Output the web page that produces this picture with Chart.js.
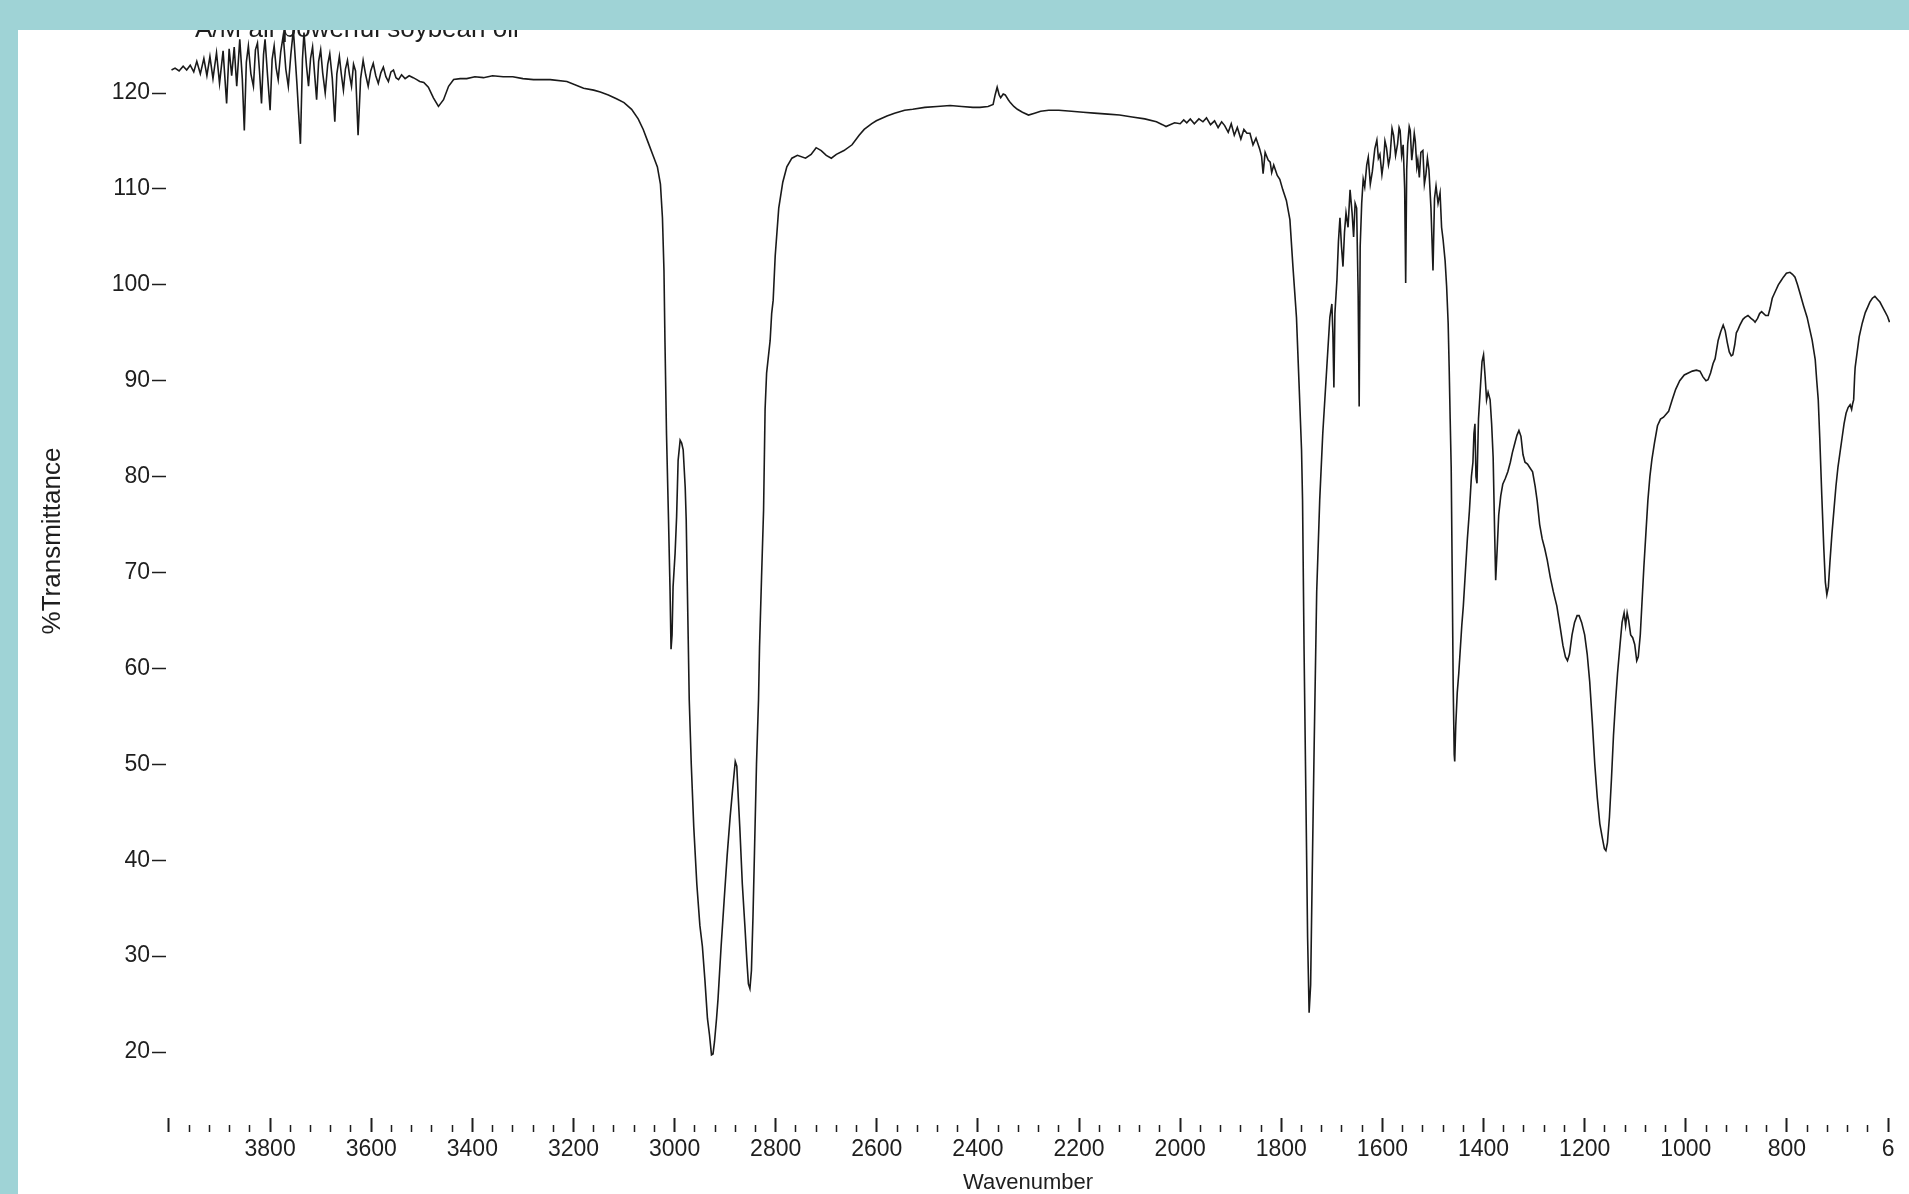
<!DOCTYPE html>
<html><head><meta charset="utf-8">
<script src="https://cdn.jsdelivr.net/npm/chart.js@4.4.1/dist/chart.umd.min.js"></script>
<style>
html,body{margin:0;padding:0;width:1909px;height:1194px;overflow:hidden;background:#9fd3d6;}
#panel{position:absolute;left:18px;top:30px;width:1891px;height:1164px;background:#fff;}
#c{display:block;}
</style></head><body>
<div id="panel"><canvas id="c" width="1891" height="1164"></canvas></div>
<script>
const chartTitle = 'A/M all powerful soybean oil';
const xAxisTitle = 'Wavenumber';
const yAxisTitle = '%Transmittance';

const wavenumbers = [
3995,3988,3980,3972,3965,3958,3951,3945,3938,3931,3925,3919,3913,3906,3900,3893,3886,3881,3876,3871,
3866,3860,3855,3851,3847,3843,3838,3833,3829,3825,3821,3817,3813,3810,3805,3800,3796,3792,3788,3784,
3779,3774,3769,3764,3759,3754,3747,3740,3736,3733,3728,3724,3720,3716,3712,3708,3704,3700,3696,3691,
3686,3682,3677,3672,3668,3663,3659,3655,3651,3647,3643,3639,3635,3631,3626,3621,3616,3611,3606,3601,
3596,3591,3586,3581,3576,3571,3566,3561,3556,3551,3546,3540,3533,3525,3517,3510,3504,3496,3487,3477,
3467,3457,3447,3437,3424,3411,3395,3378,3360,3339,3320,3300,3279,3246,3213,3180,3160,3147,3131,3115,
3100,3085,3072,3062,3052,3042,3034,3028,3024,3021,3019,3016,3012,3009,3007,3005,3003,2999,2996,2993,
2989,2986,2983,2979,2977,2975,2973,2971,2967,2962,2956,2950,2945,2940,2935,2931,2927,2924,2921,2917,
2914,2908,2902,2896,2890,2885,2880,2877,2874,2871,2866,2861,2857,2854,2851,2848,2845,2842,2838,2834,
2832,2828,2824,2821,2818,2811,2808,2805,2801,2794,2786,2778,2768,2757,2741,2730,2720,2710,2700,2690,
2680,2665,2649,2635,2625,2610,2601,2580,2565,2545,2529,2505,2481,2455,2432,2410,2396,2380,2370,2366,
2362,2358,2355,2350,2346,2340,2336,2329,2322,2312,2300,2288,2276,2260,2240,2215,2192,2170,2143,2120,
2095,2070,2047,2035,2028,2020,2011,2000,1993,1987,1980,1972,1963,1955,1948,1940,1932,1925,1918,1912,
1905,1899,1893,1887,1880,1874,1868,1862,1856,1850,1843,1839,1836,1832,1826,1822,1819,1815,1808,1803,
1797,1790,1783,1777,1770,1765,1760,1758,1755,1751,1748,1745,1742,1739,1735,1730,1724,1718,1710,1704,
1700,1698,1696,1694,1690,1687,1684,1681,1678,1675,1672,1668,1664,1660,1657,1654,1651,1648,1646,1644,
1641,1638,1635,1631,1628,1624,1620,1615,1611,1608,1605,1601,1598,1595,1592,1588,1585,1581,1578,1574,
1570,1567,1565,1562,1559,1556,1554,1552,1550,1547,1545,1542,1540,1537,1535,1532,1530,1527,1524,1520,
1517,1514,1511,1508,1504,1500,1497,1494,1490,1486,1483,1480,1476,1473,1470,1468,1466,1464,1462,1460,
1458,1457,1455,1452,1449,1446,1443,1440,1436,1432,1428,1424,1421,1419,1417,1415,1413,1410,1406,1403,
1400,1397,1394,1391,1387,1384,1381,1378,1376,1373,1370,1366,1362,1357,1352,1347,1343,1338,1334,1330,
1326,1322,1318,1313,1308,1303,1298,1294,1289,1284,1279,1274,1268,1262,1255,1249,1243,1238,1234,1230,
1225,1220,1215,1211,1206,1200,1195,1190,1185,1180,1175,1170,1165,1161,1158,1155,1151,1147,1143,1139,
1135,1130,1126,1122,1119,1116,1113,1109,1105,1101,1097,1094,1090,1087,1083,1079,1075,1071,1067,1062,
1056,1050,1044,1039,1034,1027,1020,1012,1003,995,987,979,972,966,960,956,951,946,942,936,
931,926,922,918,914,910,907,903,900,897,893,887,883,877,871,866,863,858,854,850,
846,842,837,833,829,823,817,812,807,801,794,789,784,779,774,767,760,755,750,747,
744,741,738,735,731,727,724,721,718,715,711,707,703,699,695,691,687,683,679,675,
672,670,668,666,665,661,657,651,645,640,636,631,626,621,616,611,606,601,597
];

const transmittance = [
122.4,122.6,122.3,122.8,122.4,122.9,122.2,123.3,122.0,123.6,121.8,123.8,121.5,124.2,121.0,124.4,118.9,124.6,121.8,124.8,
120.7,125.6,121.5,116.1,123.2,124.9,122.0,120.7,124.5,125.2,122.3,118.9,124.0,125.6,121.8,118.2,123.5,124.9,122.6,121.4,
124.3,126.0,122.5,120.7,124.0,126.6,121.0,114.7,123.5,126.3,122.8,120.7,123.6,124.8,122.0,119.3,123.3,124.5,122.1,120.0,
123.0,124.1,121.5,117.0,122.0,123.8,121.9,120.3,122.5,123.4,121.9,120.7,123.0,122.3,115.6,121.5,123.4,121.9,120.7,122.3,
123.1,121.8,121.0,122.1,122.7,121.7,121.2,122.2,122.4,121.6,121.4,121.9,121.5,121.8,121.6,121.4,121.2,121.1,120.6,119.5,
118.6,119.3,120.7,121.4,121.5,121.5,121.7,121.6,121.8,121.7,121.7,121.5,121.4,121.4,121.2,120.5,120.3,120.1,119.8,119.4,
119.0,118.3,117.3,116.2,114.8,113.4,112.3,110.5,107.0,101.5,94.0,84.5,75.5,68.2,62.0,63.5,68.5,72.0,75.8,81.7,
83.8,83.5,82.8,78.9,75.5,69.2,63.0,56.7,50.0,43.4,37.5,33.2,31.0,27.5,23.5,21.8,19.7,19.8,21.1,23.5,
25.6,31.0,35.8,40.5,44.6,47.5,50.3,49.8,46.5,43.4,37.5,33.2,29.5,27.1,26.6,28.5,34.0,40.8,50.0,56.7,
62.2,69.5,76.5,87.0,90.8,94.2,97.0,98.4,103.0,108.0,110.7,112.3,113.2,113.5,113.2,113.6,114.3,114.0,113.5,113.2,
113.6,114.0,114.6,115.6,116.2,116.8,117.1,117.6,117.9,118.2,118.3,118.5,118.6,118.7,118.6,118.5,118.5,118.6,118.8,119.8,
120.6,119.8,119.5,119.9,119.8,119.3,119.0,118.6,118.3,118.0,117.7,117.9,118.1,118.2,118.2,118.1,118.0,117.9,117.8,117.7,
117.5,117.3,117.0,116.7,116.5,116.7,116.9,116.8,117.2,116.9,117.3,116.8,117.3,117.0,117.4,116.7,117.1,116.4,117.0,116.6,
115.9,116.8,115.6,116.4,115.2,116.2,115.8,115.8,114.6,115.3,114.2,113.4,111.6,113.8,113.0,112.8,111.7,112.5,111.4,111.0,
109.9,108.8,106.8,101.9,96.6,89.8,82.8,77.6,62.0,45.0,32.0,24.1,27.0,38.0,52.0,68.0,77.6,84.5,91.4,96.6,
98.0,95.0,89.3,97.0,100.5,104.5,107.0,104.0,101.9,105.5,107.5,106.0,109.9,107.5,105.0,108.5,108.0,99.0,87.3,104.0,
108.5,111.0,110.2,112.5,113.3,110.5,111.8,114.2,115.1,113.2,113.6,111.5,112.7,115.0,114.3,112.5,113.3,116.3,115.6,113.5,
114.7,116.4,116.1,113.5,114.6,110.0,100.2,112.0,114.7,116.5,116.1,113.0,114.0,115.8,115.0,112.3,113.0,111.2,113.8,114.0,
110.5,111.5,113.2,112.0,108.0,101.5,109.0,110.3,108.5,109.6,106.0,104.7,102.5,99.8,96.0,91.4,86.0,81.0,70.0,58.0,
51.0,50.3,54.0,57.5,59.5,62.0,64.5,66.5,70.0,73.5,76.4,80.0,81.5,84.5,85.5,80.0,79.3,86.0,89.5,92.0,
92.7,90.5,88.0,88.8,88.0,85.5,82.0,74.0,69.2,72.5,76.0,78.0,79.2,79.8,80.5,81.5,82.5,83.5,84.3,84.8,
84.2,82.3,81.5,81.3,80.9,80.5,79.0,77.5,75.0,73.5,72.5,71.3,69.5,68.0,66.5,64.5,62.4,61.2,60.8,61.5,
63.5,64.8,65.5,65.5,64.8,63.5,61.5,58.6,54.5,50.0,46.5,43.8,42.3,41.2,41.0,41.8,44.5,48.5,53.0,56.5,
59.5,62.5,64.8,65.8,64.5,65.8,65.0,63.5,63.2,62.5,60.8,61.2,63.5,66.5,70.5,74.0,77.5,80.0,81.8,83.5,
85.3,86.0,86.2,86.5,86.8,88.0,89.1,90.0,90.6,90.8,91.0,91.1,91.0,90.4,90.0,90.1,90.8,91.8,92.3,94.2,
95.1,95.8,95.2,94.0,93.0,92.6,92.7,93.8,95.0,95.3,95.8,96.4,96.6,96.8,96.5,96.3,96.1,96.5,97.0,97.2,
97.0,96.8,96.8,97.6,98.6,99.3,100.0,100.4,100.8,101.2,101.3,101.1,100.8,100.0,99.1,97.8,96.6,95.4,94.2,93.2,
92.2,90.0,88.0,84.0,78.0,72.5,69.0,67.7,68.5,71.0,74.0,76.5,79.0,81.0,82.5,84.0,85.5,86.6,87.2,87.5,
87.0,87.6,88.0,90.5,91.4,93.0,94.6,96.0,97.1,97.7,98.2,98.6,98.8,98.5,98.2,97.7,97.2,96.7,96.1
];

const xMajorTicks = [4000,3800,3600,3400,3200,3000,2800,2600,2400,2200,2000,1800,1600,1400,1200,1000,800,600];
const xMajorLabels = ['','3800','3600','3400','3200','3000','2800','2600','2400','2200','2000','1800','1600','1400','1200','1000','800','6'];
const xMinorStep = 40;
const yTicks = [20,30,40,50,60,70,80,90,100,110,120];
const yTickLabels = ['20','30','40','50','60','70','80','90','100','110','120'];

const SANS = '"Liberation Sans",Arial,"Helvetica",sans-serif';
const INK = '#1e1e1e';

const xAllTicks = [];
for (let v = xMajorTicks[0]; v >= xMajorTicks[xMajorTicks.length - 1]; v -= xMinorStep) xAllTicks.push(v);
const xLabelMap = {};
xMajorTicks.forEach((v, i) => { xLabelMap[v] = xMajorLabels[i]; });
const yLabelMap = {};
yTicks.forEach((v, i) => { yLabelMap[v] = yTickLabels[i]; });
const isMajor = v => xMajorTicks.includes(v);

const points = wavenumbers.map((w, i) => ({ x: w, y: transmittance[i] }));

const extraText = {
  id: 'extraText',
  afterDraw(chart) {
    const ctx = chart.ctx;
    ctx.save();
    ctx.fillStyle = INK;
    ctx.font = '26px ' + SANS;
    ctx.textAlign = 'left';
    ctx.textBaseline = 'alphabetic';
    ctx.fillText(chartTitle, 177, 7);
    ctx.translate(35, 511);
    ctx.rotate(-Math.PI / 2);
    ctx.font = '26px ' + SANS;
    ctx.textAlign = 'center';
    ctx.textBaseline = 'middle';
    ctx.fillText(yAxisTitle, 0, 0);
    ctx.restore();
  }
};

new Chart(document.getElementById('c'), {
  type: 'scatter',
  data: {
    datasets: [{
      data: points,
      showLine: true,
      borderColor: '#1a1a1a',
      borderWidth: 1.6,
      pointRadius: 0,
      pointHoverRadius: 0,
      tension: 0,
      fill: false
    }]
  },
  plugins: [extraText],
  options: {
    responsive: false,
    devicePixelRatio: 1,
    animation: false,
    events: [],
    layout: { padding: { left: 0, right: 19, top: 0, bottom: 0 } },
    plugins: { legend: { display: false }, tooltip: { enabled: false }, title: { display: false } },
    scales: {
      x: {
        type: 'linear',
        reverse: true,
        min: 596.1,
        max: 4005.9,
        afterBuildTicks: s => { s.ticks = xAllTicks.map(v => ({ value: v })); },
        afterFit: s => { s.height = 76; s.paddingLeft = 0; s.paddingRight = 0; },
        border: { display: false },
        grid: {
          drawOnChartArea: false,
          drawTicks: true,
          tickLength: 14,
          tickColor: INK,
          tickWidth: c => (c.tick && isMajor(c.tick.value)) ? 2 : 1.5,
          tickBorderDash: c => (c.tick && isMajor(c.tick.value)) ? [] : [7, 7],
          tickBorderDashOffset: c => (c.tick && isMajor(c.tick.value)) ? 0 : 7
        },
        ticks: {
          autoSkip: false,
          maxRotation: 0,
          minRotation: 0,
          padding: 4,
          color: INK,
          font: { family: SANS, size: 23 },
          callback: v => (v in xLabelMap) ? xLabelMap[v] : ''
        },
        title: {
          display: true,
          text: xAxisTitle,
          color: INK,
          font: { family: SANS, size: 22, lineHeight: 1 },
          padding: { top: 0, bottom: 0 }
        }
      },
      y: {
        type: 'linear',
        min: 13.12,
        max: 126.57,
        afterBuildTicks: s => { s.ticks = yTicks.map(v => ({ value: v })); },
        afterFit: s => { s.width = 148; s.paddingTop = 0; s.paddingBottom = 0; },
        border: { display: false },
        grid: {
          drawOnChartArea: false,
          drawTicks: true,
          tickLength: 14,
          tickColor: INK,
          tickWidth: 1.5
        },
        ticks: {
          padding: 2,
          color: INK,
          font: { family: SANS, size: 23 },
          callback: v => (v in yLabelMap) ? yLabelMap[v] : ''
        }
      }
    }
  }
});
</script>
</body></html>
